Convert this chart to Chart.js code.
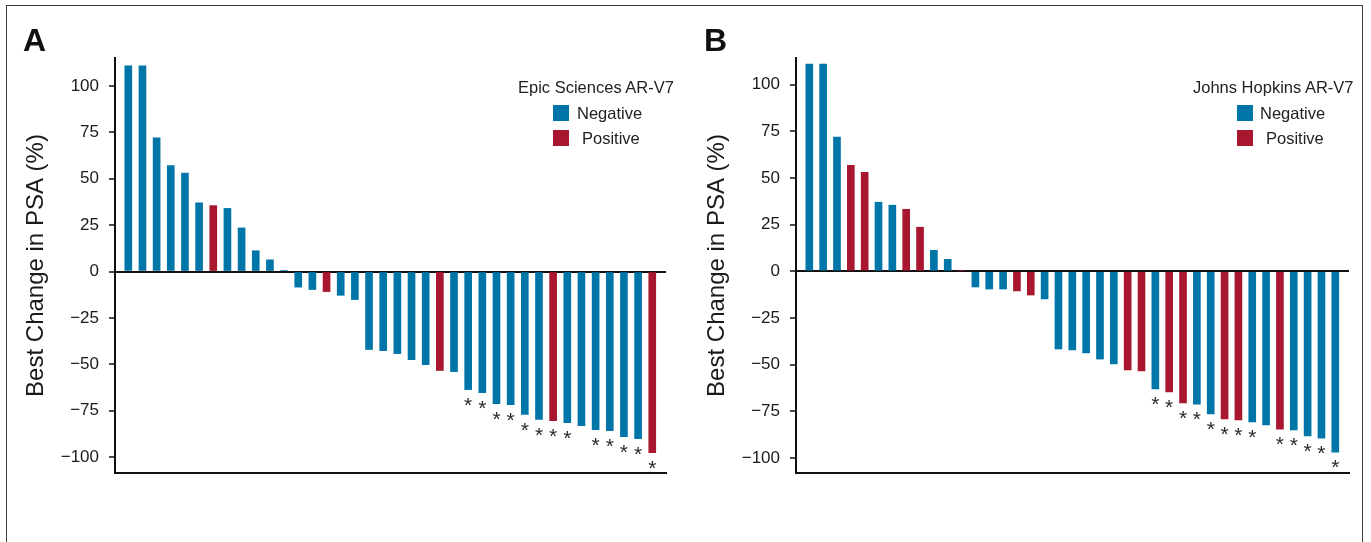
<!DOCTYPE html>
<html><head><meta charset="utf-8">
<script src="https://cdn.jsdelivr.net/npm/chart.js@4.4.1/dist/chart.umd.min.js"></script>
<style>
html,body{margin:0;padding:0;background:#fff;width:1371px;height:542px;overflow:hidden;font-family:"Liberation Sans",Arial,sans-serif;}
.frame{position:absolute;left:6px;top:5px;width:1357px;height:700px;border:1.5px solid #3a3a3a;box-sizing:border-box;}
.wrap{position:absolute;top:0;height:542px;}
.letter{position:absolute;font-weight:bold;font-size:32px;line-height:32px;color:#111;}
.lg{position:absolute;font-size:16.5px;line-height:20px;color:#222;white-space:nowrap;}
.sw{position:absolute;width:16px;height:16px;}
</style></head><body>
<div class="frame"></div>
<div class="wrap" style="left:0;width:681px"><canvas id="chartA"></canvas></div>
<div class="wrap" style="left:681px;width:690px"><canvas id="chartB"></canvas></div>
<div class="letter" style="left:23px;top:24px">A</div>
<div class="letter" style="left:704px;top:24px">B</div>
<div id="legendA"></div>
<div id="legendB"></div>
<script>
// ---- data ----
const tickValues = [-100, -75, -50, -25, 0, 25, 50, 75, 100];
const seriesNames = ['Negative', 'Positive'];
const titleA = 'Epic Sciences AR-V7';
const titleB = 'Johns Hopkins AR-V7';
const yAxisTitle = 'Best Change in PSA (%)';

const categoriesA = Array.from({length: 38}, (_, i) => i + 1);
const valuesA = [110.8, 110.8, 72, 57, 53, 37, 35.5, 34, 23.5, 11.2, 6.3, 0.5,
  -8.4, -9.7, -10.8, -12.8, -15.1, -42, -42.6, -44.2, -47.4, -50.1, -53.3, -53.9,
  -63.6, -65.2, -71.1, -71.7, -77, -79.7, -80.3, -81.4, -83, -85.1, -85.7, -88.9, -90, -97.5];
const statusA = ['N','N','N','N','N','N','P','N','N','N','N','N',
  'N','N','P','N','N','N','N','N','N','N','P','N',
  'N','N','N','N','N','N','P','N','N','N','N','N','N','P'];
const asteriskA = [0,0,0,0,0,0,0,0,0,0,0,0,
  0,0,0,0,0,0,0,0,0,0,0,0,
  1,1,1,1,1,1,1,1,0,1,1,1,1,1];

const categoriesB = Array.from({length: 39}, (_, i) => i + 1);
const valuesB = [110.9, 110.9, 71.8, 56.8, 53, 37, 35.4, 33.2, 23.6, 11.2, 6.4, 0.5,
  -8.4, -9.5, -9.5, -10.5, -12.7, -14.8, -41.6, -42.1, -43.7, -47, -49.6, -52.8, -53.4,
  -63, -64.6, -70.5, -71.1, -76.4, -79.1, -79.6, -80.7, -82.3, -84.5, -85, -88.2, -89.3, -96.8];
const statusB = ['N','N','N','P','P','N','N','P','P','N','N','P',
  'N','N','N','P','P','N','N','N','N','N','N','P','P',
  'N','P','P','N','N','P','P','N','N','P','N','N','N','N'];
const asteriskB = [0,0,0,0,0,0,0,0,0,0,0,0,
  0,0,0,0,0,0,0,0,0,0,0,0,0,
  1,1,1,1,1,1,1,1,0,1,1,1,1,1];

const BLUE = '#0076A8';
const RED = '#A9162F';

Chart.defaults.font.family = '"Liberation Sans", Arial, sans-serif';

function starPlugin(status, flags) {
  return {
    id: 'stars',
    afterDatasetsDraw(chart) {
      const ctx = chart.ctx;
      const m0 = chart.getDatasetMeta(0), m1 = chart.getDatasetMeta(1);
      ctx.save();
      ctx.font = '21px "Liberation Sans", Arial, sans-serif';
      ctx.textAlign = 'center';
      ctx.textBaseline = 'alphabetic';
      ctx.fillStyle = '#2a2a2a';
      flags.forEach((f, i) => {
        if (!f) return;
        const el = (status[i] === 'N' ? m0 : m1).data[i];
        ctx.fillText('*', el.x, el.y + 22);
      });
      ctx.restore();
    }
  };
}

function makeChart(id, cats, vals, status, flags, xMin, xMax, yMin, yMax, padTop, padRight) {
  const neg = cats.map((c, i) => ({x: c, y: status[i] === 'N' ? vals[i] : null}));
  const pos = cats.map((c, i) => ({x: c, y: status[i] === 'P' ? vals[i] : null}));
  return new Chart(document.getElementById(id), {
    type: 'bar',
    data: {datasets: [
      {label: seriesNames[0], data: neg, backgroundColor: BLUE, barThickness: 7, grouped: false},
      {label: seriesNames[1], data: pos, backgroundColor: RED, barThickness: 7, grouped: false}
    ]},
    options: {
      animation: false, responsive: true, maintainAspectRatio: false,
      layout: {padding: {top: padTop, right: padRight, bottom: 69, left: 0}},
      plugins: {legend: {display: false}, tooltip: {enabled: false}},
      scales: {
        x: {type: 'linear', min: xMin, max: xMax, offset: false, bounds: 'data',
          grid: {display: false, offset: false}, ticks: {display: false},
          border: {display: true, color: '#111', width: 2},
          afterFit(s) { s.height = 0; }},
        y: {min: yMin, max: yMax, z: 1,
          afterBuildTicks(s) { s.ticks = tickValues.map(v => ({value: v})); },
          afterFit(s) { s.width = 115; },
          grid: {
            color: c => (c.tick && c.tick.value === 0) ? '#111' : 'rgba(0,0,0,0)',
            lineWidth: c => (c.tick && c.tick.value === 0) ? 2 : 0,
            drawTicks: true, tickLength: 6, tickColor: '#111', tickWidth: 1.5
          },
          border: {display: true, color: '#111', width: 2},
          ticks: {padding: 10, font: {size: 17}, color: '#1a1a1a',
            callback: v => String(v).replace('-', '\u2212')},
          title: {display: true, text: yAxisTitle, font: {size: 24}, color: '#1a1a1a',
            padding: {top: 22, bottom: 0}}
        }
      }
    },
    plugins: [starPlugin(status, flags)]
  });
}

const chartA = makeChart('chartA', categoriesA, valuesA, statusA, asteriskA, 0.061, 38.97, -108.5, 115, 58, 15);
const chartB = makeChart('chartB', categoriesB, valuesB, statusB, asteriskB, 0.039, 39.99, -108, 114.2, 58, 22);

function buildLegend(elId, chart, title, tx, sx, negTx, posTx) {
  const el = document.getElementById(elId);
  let html = '<div class="lg" style="left:' + tx + 'px;top:77px">' + title + '</div>';
  const tops = [105, 130];
  const txs = [negTx, posTx];
  chart.data.datasets.forEach((ds, k) => {
    html += '<div class="sw" style="left:' + sx + 'px;top:' + tops[k] + 'px;background:' + ds.backgroundColor + '"></div>';
    html += '<div class="lg" style="left:' + txs[k] + 'px;top:' + (tops[k] - 2) + 'px">' + ds.label + '</div>';
  });
  el.innerHTML = html;
}
buildLegend('legendA', chartA, titleA, 518, 553, 577, 582);
buildLegend('legendB', chartB, titleB, 1193, 1237, 1260, 1266);
</script>
</body></html>
